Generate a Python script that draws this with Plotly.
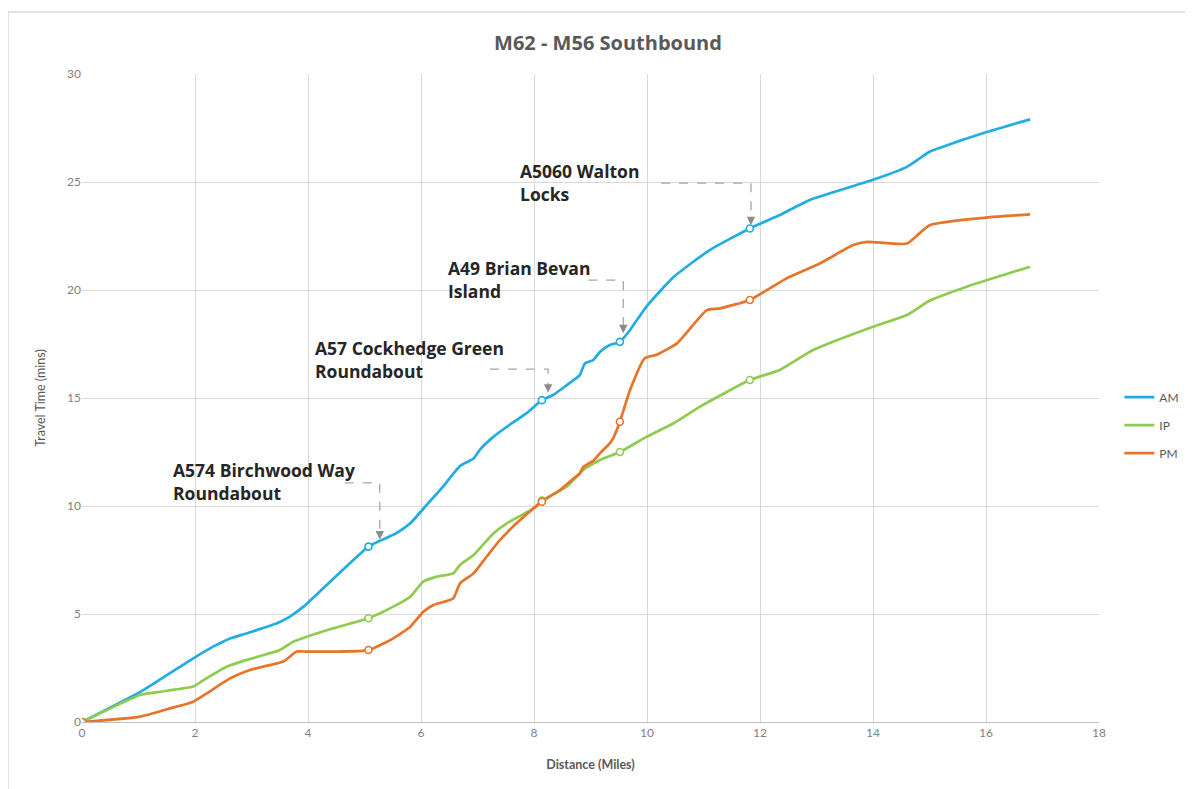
import plotly.graph_objects as go

# distance (miles) / cumulative travel time (mins)
am_dist = [0, 1.03, 1.97, 2.32, 2.62, 2.91, 3.45, 3.68, 3.92, 4.33, 5.07, 5.3, 5.55, 5.81, 6.1,
           6.39, 6.69, 6.93, 7.04, 7.28, 7.52, 7.87, 8.14, 8.34, 8.58, 8.7, 8.81, 8.9, 9.05, 9.17,
           9.34, 9.52, 9.7, 9.99, 10.47, 11.11, 11.82, 12.35, 12.88, 14.0, 14.6, 15.0, 15.2,
           16.0, 16.78]
am_time = [0, 1.39, 2.95, 3.49, 3.87, 4.1, 4.57, 4.88, 5.34, 6.34, 8.12, 8.42, 8.72, 9.2, 10.05,
           10.9, 11.85, 12.2, 12.6, 13.2, 13.67, 14.3, 14.9, 15.14, 15.6, 15.83, 16.06, 16.6,
           16.76, 17.14, 17.45, 17.6, 18.15, 19.23, 20.6, 21.85, 22.85, 23.47, 24.17, 25.1, 25.7,
           26.4, 26.6, 27.3, 27.9]

ip_dist = [0, 1.03, 1.38, 1.97, 2.15, 2.56, 2.91, 3.5, 3.74, 3.98, 4.45, 5.07, 5.51, 5.81, 6.04,
           6.28, 6.57, 6.69, 6.93, 7.28, 7.52, 7.99, 8.14, 8.58, 8.87, 9.17, 9.52, 9.99, 10.47,
           10.94, 11.82, 12.35, 12.94, 14.0, 14.6, 15.0, 15.66, 16.78]
ip_time = [0, 1.25, 1.4, 1.64, 1.94, 2.56, 2.87, 3.33, 3.72, 3.95, 4.34, 4.8, 5.34, 5.8, 6.5,
           6.73, 6.88, 7.27, 7.73, 8.73, 9.2, 9.89, 10.25, 10.9, 11.67, 12.13, 12.5, 13.2, 13.83,
           14.6, 15.83, 16.3, 17.22, 18.3, 18.84, 19.5, 20.15, 21.08]

pm_dist = [0, 1.03, 1.56, 1.97, 2.21, 2.62, 2.97, 3.56, 3.8, 3.98, 5.07, 5.51, 5.81, 6.04, 6.22,
           6.57, 6.69, 6.93, 7.16, 7.4, 7.69, 7.99, 8.14, 8.46, 8.7, 8.81, 8.87, 9.05, 9.17, 9.34,
           9.4, 9.52, 9.7, 9.96, 10.17, 10.53, 11.06, 11.29, 11.82, 12.47, 13.06, 13.65, 13.89,
           14.6, 15.0, 16.0, 16.78]
pm_time = [0, 0.25, 0.63, 0.94, 1.33, 2.02, 2.41, 2.8, 3.26, 3.26, 3.33, 3.87, 4.41, 5.1, 5.42,
           5.72, 6.42, 6.88, 7.65, 8.43, 9.2, 9.89, 10.2, 10.74, 11.27, 11.5, 11.8, 12.1, 12.45,
           12.9, 13.13, 13.9, 15.37, 16.84, 17.0, 17.53, 19.07, 19.15, 19.54, 20.54, 21.23, 22.08,
           22.23, 22.15, 23.0, 23.35, 23.5]

# junctions marked with hollow circles
junction_dist = [0, 5.07, 8.14, 9.52, 11.82]

# callouts: label, text anchor (x, y), elbow start x, elbow y, arrow tip (x, y)
callout_text = ["A574 Birchwood Way<br>Roundabout", "A57 Cockhedge Green<br>Roundabout",
                "A49 Brian Bevan<br>Island", "A5060 Walton<br>Locks"]
callout_text_x = [1.58, 4.09, 6.45, 7.72]
callout_text_y = [11.15, 16.8, 20.5, 25.0]
callout_line_x0 = [4.65, 7.22, 8.96, 10.25]
callout_line_y = [11.07, 16.34, 20.46, 24.95]
callout_tip_x = [5.27, 8.25, 9.58, 11.84]
callout_tip_y = [8.45, 15.25, 18.0, 23.0]

series = [
    ("AM", am_dist, am_time, "#21ADE3"),
    ("IP", ip_dist, ip_time, "#8FCB4F"),
    ("PM", pm_dist, pm_time, "#E8742A"),
]

fig = go.Figure()

for name, xs, ys, col in series:
    fig.add_trace(go.Scatter(
        x=xs, y=ys, mode="lines", name=name, legendgroup=name,
        line=dict(color=col, width=2.7, shape="spline", smoothing=0.5),
    ))

for name, xs, ys, col in series:
    lookup = dict(zip(xs, ys))
    fig.add_trace(go.Scatter(
        x=junction_dist, y=[lookup[d] for d in junction_dist], mode="markers",
        showlegend=False, hoverinfo="skip",
        marker=dict(symbol="circle", size=7, color="white", line=dict(color=col, width=1.6)),
    ))

shapes = []
annotations = []
for i, txt in enumerate(callout_text):
    x0, yl = callout_line_x0[i], callout_line_y[i]
    tx, ty = callout_tip_x[i], callout_tip_y[i]
    shapes.append(dict(
        type="path", xref="x", yref="y",
        path=f"M {x0},{yl} L {tx},{yl} L {tx},{ty + 0.3}",
        line=dict(color="#A6A6A6", width=1.3, dash="dash"),
    ))
    annotations.append(dict(
        x=tx, y=ty, xref="x", yref="y", text="", showarrow=True,
        ax=0, ay=-7, arrowhead=2, arrowsize=1.3, arrowwidth=1.3, arrowcolor="#8C8C8C",
    ))
    annotations.append(dict(
        x=callout_text_x[i], y=callout_text_y[i], xref="x", yref="y", text=f"<b>{txt}</b>",
        showarrow=False, xanchor="left", yanchor="middle", align="left",
        font=dict(family="Open Sans", size=17.5, color="#262626"),
    ))

# light frame around the chart
shapes.append(dict(type="rect", xref="paper", yref="paper", x0=-0.0728, x1=1.0895,
                   y0=-0.12, y1=1.0957, line=dict(color="#D9D9D9", width=1.5)))

# page body adds an 8px offset, so margins are trimmed to keep the plot area in place
fig.update_layout(
    width=1185, height=781,
    margin=dict(l=74, r=94, t=66, b=67, autoexpand=False),
    paper_bgcolor="white", plot_bgcolor="white",
    font=dict(family="Lato", color="#595959", size=12),
    title=dict(text="<b>M62 - M56 Southbound</b>", x=0.5063, xanchor="center", y=0.955,
               yanchor="middle", font=dict(family="Open Sans", size=20, color="#595959")),
    xaxis=dict(range=[0, 18], dtick=2, showgrid=True, gridcolor="#D9D9D9", gridwidth=1,
               zeroline=False, showline=True, linecolor="#BFBFBF", ticks="",
               title=dict(text="<b>Distance (Miles)</b>", standoff=20,
                          font=dict(size=12.5, color="#595959")),
               tickfont=dict(size=12, color="#7F7F7F")),
    yaxis=dict(range=[0, 30], dtick=5, showgrid=True, gridcolor="#D9D9D9", gridwidth=1,
               zeroline=False, showline=False, ticks="",
               title=dict(text="Travel Time (mins)", standoff=18,
                          font=dict(size=12.5, color="#595959")),
               tickfont=dict(size=12, color="#7F7F7F")),
    legend=dict(x=1.02, y=0.458, xanchor="left", yanchor="middle", bgcolor="rgba(0,0,0,0)",
                font=dict(size=12, color="#595959"), tracegroupgap=9, itemwidth=30),
    shapes=shapes,
    annotations=annotations,
)

fig.write_html("out.html")
